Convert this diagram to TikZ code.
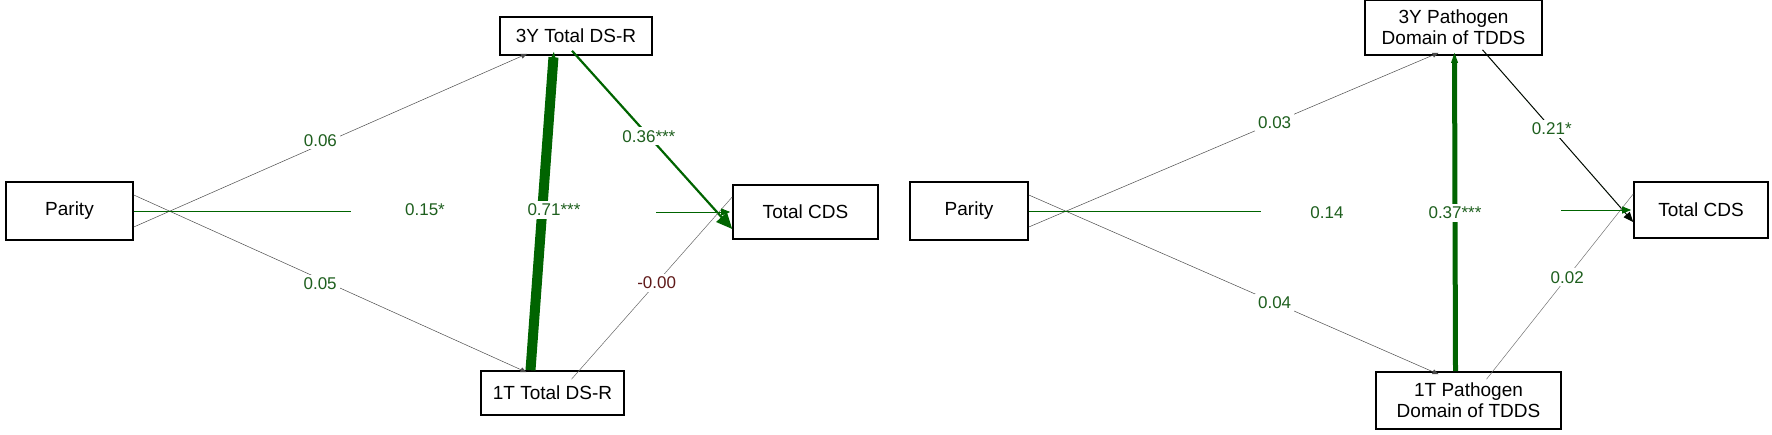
\documentclass[tikz,border=0pt]{standalone}
\usepackage{fontspec}
\setmainfont{Liberation Sans}
\usetikzlibrary{arrows.meta}
\definecolor{dg}{RGB}{0,100,0}
\definecolor{lg}{RGB}{30,95,30}
\definecolor{dr}{RGB}{95,25,25}
\begin{document}
\begin{tikzpicture}[x=1pt,y=-1pt,
  box/.style={draw,line width=1.6pt,inner sep=0pt,font=\fontsize{19}{21}\selectfont,align=center},
  lab/.style={fill=white,inner sep=3pt,text=lg,font=\fontsize{17}{19}\selectfont},
  thin/.style={draw=black!70,line width=0.5pt,-{Triangle[length=6pt,width=5pt]}},
  mid/.style={draw=dg,line width=0.8pt,-{Triangle[length=9pt,width=7pt]}}]
\useasboundingbox (0,0) rectangle (1772,434);
% left panel
\node[box,minimum width=127,minimum height=58] (p1) at (69.5,211) {Parity};
\node[box,minimum width=152,minimum height=38] (y1) at (576,36) {3Y Total DS-R};
\node[box,minimum width=143,minimum height=44] (t1) at (552.5,393) {1T Total DS-R};
\node[box,minimum width=145,minimum height=54] (c1) at (805.5,212) {Total CDS};
\draw[line width=10pt,draw=dg,-{Triangle[length=8pt,width=3.2]}] ([xshift=-22]t1.north) -- ([xshift=-22,yshift=6]y1.south);
\node[lab] at (554,210) {0.71***};
\draw[thin] ([yshift=-16]p1.east) -- node[lab,pos=0.5,xshift=-10]{0.06} ([xshift=-49,yshift=2]y1.south);
\draw[thin] ([yshift=16]p1.east) -- node[lab,pos=0.5,xshift=-10]{0.05} ([xshift=-26,yshift=-2]t1.north);
\draw[draw=dg,line width=2.2pt,-{Triangle[length=16pt,width=14pt]}] ([xshift=-4,yshift=5]y1.south) -- node[lab,pos=0.48]{0.36***} ([yshift=-17]c1.west);
\draw[draw=black!60,line width=0.5pt] ([xshift=19,yshift=-9]t1.north) -- node[lab,pos=0.53,text=dr]{-0.00} ([yshift=15]c1.west);
\draw[draw=dg,line width=0.7pt] (p1.east) -- ++(217,0) coordinate (h1);
\node[lab] at (425,210) {0.15*};
\draw[mid] ([xshift=-76]c1.west) coordinate (h2) -- ([xshift=-2]c1.west);
% right panel
\node[box,minimum width=118,minimum height=58] (p2) at (969,211) {Parity};
\node[box,minimum width=177,minimum height=55] (y2) at (1453.5,27.5) {3Y Pathogen\\Domain of TDDS};
\node[box,minimum width=185,minimum height=57] (t2) at (1468.5,400.5) {1T Pathogen\\Domain of TDDS};
\node[box,minimum width=134,minimum height=56] (c2) at (1701,210) {Total CDS};
\draw[line width=5pt,draw=dg,-{Triangle[length=14pt,width=5.4]}] ([xshift=-13]t2.north) -- ([xshift=1,yshift=7]y2.south);
\node[lab] at (1455,213) {0.37***};
\draw[thin] ([yshift=-16]p2.east) -- node[lab,pos=0.6]{0.03} ([xshift=-15,yshift=3]y2.south);
\draw[thin] ([yshift=16]p2.east) -- node[lab,pos=0.6]{0.04} ([xshift=-30,yshift=-3]t2.north);
\draw[draw=black!90!dg,line width=1pt,-{Triangle[length=10pt,width=8pt]}] ([xshift=29,yshift=6]y2.south) -- node[lab,pos=0.46]{0.21*} ([yshift=-12]c2.west);
\draw[draw=black!55,line width=0.5pt] ([xshift=18,yshift=-8]t2.north) -- node[lab,pos=0.55]{0.02} ([yshift=16]c2.west);
\draw[draw=dg,line width=0.7pt] (p2.east) -- ++(232,0) coordinate (h3);
\node[lab] at (1327,213) {0.14};
\draw[mid] ([xshift=-72]c2.west) coordinate (h4) -- ([xshift=-2]c2.west);
\end{tikzpicture}
\end{document}
